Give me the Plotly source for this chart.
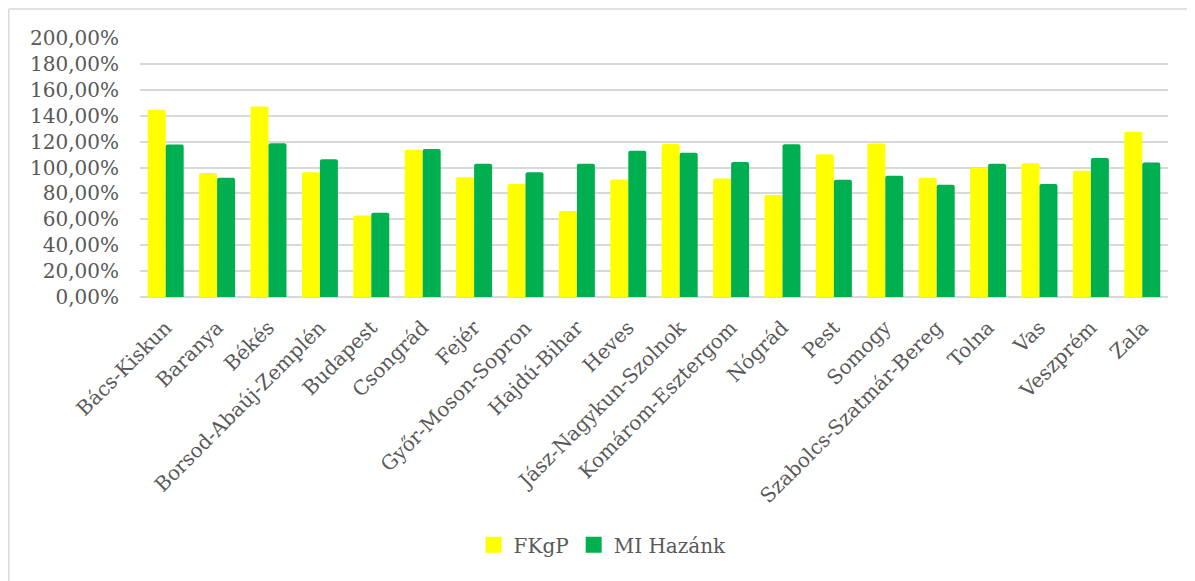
import plotly.graph_objects as go

categories = ["Bács-Kiskun", "Baranya", "Békés", "Borsod-Abaúj-Zemplén", "Budapest",
              "Csongrád", "Fejér", "Győr-Moson-Sopron", "Hajdú-Bihar", "Heves",
              "Jász-Nagykun-Szolnok", "Komárom-Esztergom", "Nógrád", "Pest", "Somogy",
              "Szabolcs-Szatmár-Bereg", "Tolna", "Vas", "Veszprém", "Zala"]
fkgp = [144.6, 95.8, 147.2, 96.4, 63.0, 113.8, 92.5, 87.2, 66.4, 90.8,
        118.2, 91.5, 78.7, 110.2, 118.5, 92.0, 99.7, 103.3, 97.4, 127.7]
mi_hazank = [117.7, 92.0, 118.7, 106.4, 65.1, 114.3, 102.8, 96.4, 102.8, 113.0,
             111.3, 104.3, 117.9, 90.5, 93.6, 86.7, 102.8, 87.2, 107.4, 103.8]
y_ticks = [0, 20, 40, 60, 80, 100, 120, 140, 160, 180, 200]
y_tick_labels = ["%d,00%%" % v for v in y_ticks]

FONT = "DejaVu Serif"
TXT = "#595959"
YELLOW = "#FFFF00"
GREEN = "#00B050"

fig = go.Figure()
fig.add_trace(go.Bar(x=categories, y=fkgp, name="FKgP", legendgroup="a", showlegend=False,
                     marker=dict(color=YELLOW, cornerradius=2, line=dict(width=0))))
fig.add_trace(go.Bar(x=categories, y=mi_hazank, name="MI Hazánk", legendgroup="b", showlegend=False,
                     marker=dict(color=GREEN, cornerradius=2, line=dict(width=0))))
# legend entries with larger square swatches
fig.add_trace(go.Scatter(x=[None], y=[None], mode="markers", name="FKgP", legendgroup="a",
                         marker=dict(symbol="square", size=16, color=YELLOW)))
fig.add_trace(go.Scatter(x=[None], y=[None], mode="markers", name="MI Hazánk", legendgroup="b",
                         marker=dict(symbol="square", size=16, color=GREEN)))

fig.update_layout(
    width=1187, height=573,
    margin=dict(l=132, r=27, t=30, b=284, pad=0),
    paper_bgcolor="white", plot_bgcolor="white",
    barmode="group", bargap=0.3, bargroupgap=0,
    font=dict(family=FONT, color=TXT, size=20),
    showlegend=True,
    legend=dict(orientation="h", x=0.45, xanchor="center", y=-0.957, yanchor="middle",
                font=dict(family=FONT, size=20, color=TXT), itemwidth=30,
                itemsizing="trace", bgcolor="rgba(0,0,0,0)"),
    xaxis=dict(type="category", tickangle=-45, tickfont=dict(family=FONT, size=20, color=TXT),
               showgrid=False, showline=False, ticks="", zeroline=False,
               ticklabelstandoff=14),
    yaxis=dict(range=[0, 200], tickvals=y_ticks, ticktext=y_tick_labels,
               tickfont=dict(family=FONT, size=20, color=TXT),
               showgrid=True, gridcolor="#d9d9d9", gridwidth=1.5,
               zeroline=True, zerolinecolor="#d9d9d9", zerolinewidth=1.5,
               showline=False, ticks="", fixedrange=True, ticklabelstandoff=20),
    shapes=[
        dict(type="line", xref="paper", yref="paper", x0=-0.1277, x1=-0.1277,
             y0=1.112, y1=-1.2, line=dict(color="#d9d9d9", width=1.5)),
        dict(type="line", xref="paper", yref="paper", x0=-0.1277, x1=1.03,
             y0=1.112, y1=1.112, line=dict(color="#d9d9d9", width=1.5)),
    ],
)

fig.write_html("out.html")
